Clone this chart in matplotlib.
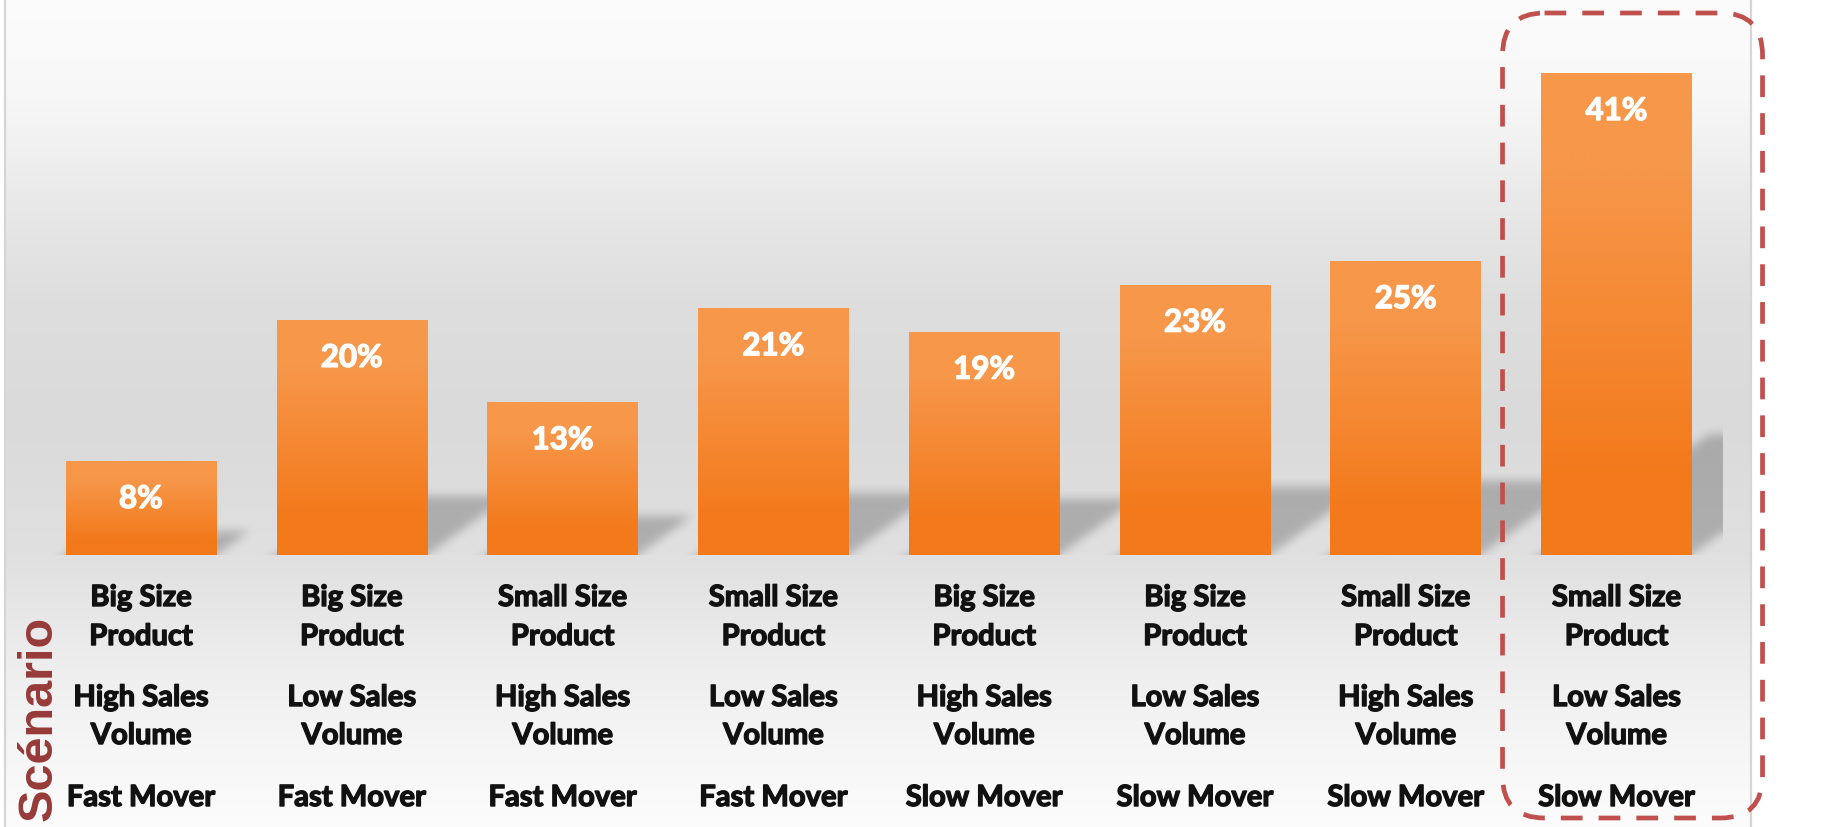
import numpy as np
import matplotlib.pyplot as plt
import matplotlib.patheffects as pe
from matplotlib.patches import FancyBboxPatch
from matplotlib.transforms import blended_transform_factory

# scenario descriptors and share per scenario (%)
size_labels = ["Big Size\nProduct", "Big Size\nProduct", "Small Size\nProduct", "Small Size\nProduct",
               "Big Size\nProduct", "Big Size\nProduct", "Small Size\nProduct", "Small Size\nProduct"]
volume_labels = ["High Sales\nVolume", "Low Sales\nVolume", "High Sales\nVolume", "Low Sales\nVolume",
                 "High Sales\nVolume", "Low Sales\nVolume", "High Sales\nVolume", "Low Sales\nVolume"]
mover_labels = ["Fast Mover", "Fast Mover", "Fast Mover", "Fast Mover",
                "Slow Mover", "Slow Mover", "Slow Mover", "Slow Mover"]
shares = [8, 20, 13, 21, 19, 23, 25, 41]
highlight = 7

W, H = 1841, 827
fig = plt.figure(figsize=(W / 100, H / 100), dpi=100)

# pixel-unit canvas for the panel background and frame
bg = fig.add_axes([0, 0, 1, 1])
bg.set_xlim(0, W)
bg.set_ylim(H, 0)
bg.axis('off')
stops_y = [0, 100, 200, 300, 420, 555, 650, 750, 827]
stops_v = [252, 247, 233, 222, 218, 224, 236, 246, 252]
shade = np.interp(np.arange(H), stops_y, stops_v) / 255
panel = np.repeat(shade[:, None, None], 3, axis=2)
bg.imshow(panel, extent=(6, 1751, H, 0), aspect='auto', interpolation='bilinear')
bg.axvline(5.5, color='#d6d6d6', lw=1.6)
bg.axvline(1751, color='#d6d6d6', lw=1.6)
bg.set_xlim(0, W)
bg.set_ylim(H, 0)

# plotting area: baseline at y=555 px, 210.8 px between bars
base_px, step_px, first_px, px_per_pct = 555, 210.79, 141, 11.756
left_px, right_px = 6, 1723
ax = fig.add_axes([left_px / W, 1 - base_px / H, (right_px - left_px) / W, base_px / H])
ax.patch.set_alpha(0)
ax.axis('off')
xlo, xhi = (left_px - first_px) / step_px, (right_px - first_px) / step_px
ytop = base_px / px_per_pct

x = np.arange(len(shares))
width = 0.714

# soft sheared shadow behind each bar
shear = 0.078
gx = np.linspace(xlo, xhi, right_px - left_px)
gy = np.linspace(-3, 16, int(19 * px_per_pct))
GX, GY = np.meshgrid(gx, gy)
mask = np.zeros_like(GX)
for xi, v in zip(x, shares):
    off = GY * shear
    inside = (GX >= xi - width / 2 + off) & (GX <= xi + width / 2 + off) & (GY <= 0.25 * v)
    mask[inside] = 1.0


def box_blur(a, r, axis):
    pad = [(0, 0), (0, 0)]
    pad[axis] = (r + 1, r)
    p = np.pad(a, pad, mode='edge')
    c = np.cumsum(p, axis=axis)
    if axis == 0:
        return (c[2 * r + 1:, :] - c[:-2 * r - 1, :]) / (2 * r + 1)
    return (c[:, 2 * r + 1:] - c[:, :-2 * r - 1]) / (2 * r + 1)


for _ in range(2):
    mask = box_blur(mask, 5, 0)
    mask = box_blur(mask, 5, 1)
sh = np.zeros(mask.shape + (4,))
sh[..., 3] = mask * 0.22
ax.imshow(sh, extent=(xlo, xhi, gy[0], gy[-1]), origin='lower', aspect='auto',
          interpolation='bilinear', zorder=1)

# bars with a vertical orange gradient
bars = ax.bar(x, shares, width=width, color='none', edgecolor='none', zorder=2)
top_c = np.array([247, 151, 74]) / 255
bot_c = np.array([243, 121, 26]) / 255
t = np.linspace(0, 1, 256)
k = np.clip((t - 0.2) / 0.65, 0, 1)
grad = (top_c[None, :] + (bot_c - top_c)[None, :] * k[:, None])[:, None, :]
for b in bars:
    bx, by, bw, bh = b.get_x(), b.get_y(), b.get_width(), b.get_height()
    im = ax.imshow(grad, extent=(bx, bx + bw, by, by + bh), origin='upper', aspect='auto',
                   interpolation='bilinear', zorder=2)
    im.set_clip_path(b)

for xi, v in zip(x, shares):
    ax.annotate(f"{v}%", (xi, v), xytext=(0, -47 * 0.72), textcoords='offset points',
                ha='center', va='baseline', color='white', fontsize=22.5,
                fontweight='bold', family='Lato', zorder=4,
                path_effects=[pe.withStroke(linewidth=1.0, foreground='white')])

ax.set_xlim(xlo, xhi)
ax.set_ylim(0, ytop)

# scenario descriptors under each bar
trans = blended_transform_factory(ax.transData, bg.transData)
rows = [(size_labels, [606, 645]), (volume_labels, [706, 744]), (mover_labels, [806])]
for labels, baselines in rows:
    for xi, lab in zip(x, labels):
        for line, yb in zip(lab.split("\n"), baselines):
            ax.text(xi, yb, line, transform=trans, ha='center', va='baseline',
                    fontsize=21, fontweight='bold', color='#111111', family='Lato',
                    path_effects=[pe.withStroke(linewidth=1.0, foreground='#111111')])

# callout around the highlighted scenario and the row title
fg = fig.add_axes([0, 0, 1, 1], zorder=5)
fg.set_xlim(0, W)
fg.set_ylim(H, 0)
fg.axis('off')
fg.patch.set_alpha(0)
cx = trans.transform((highlight, 0))[0]
cx = fg.transData.inverted().transform((cx, 0))[0]
box = FancyBboxPatch((cx - 114, 13), 260, 805, boxstyle="round,pad=0,rounding_size=42",
                     fill=False, edgecolor='#c0504d', lw=3.4, linestyle=(0, (4.6, 3.4)))
fg.add_patch(box)
fg.text(52, 718, "Scénario", rotation=90, rotation_mode='anchor', ha='center', va='baseline',
        fontsize=35, fontweight='bold', color='#963a38', family='Liberation Sans')

fig.savefig("out.png", dpi=100)
